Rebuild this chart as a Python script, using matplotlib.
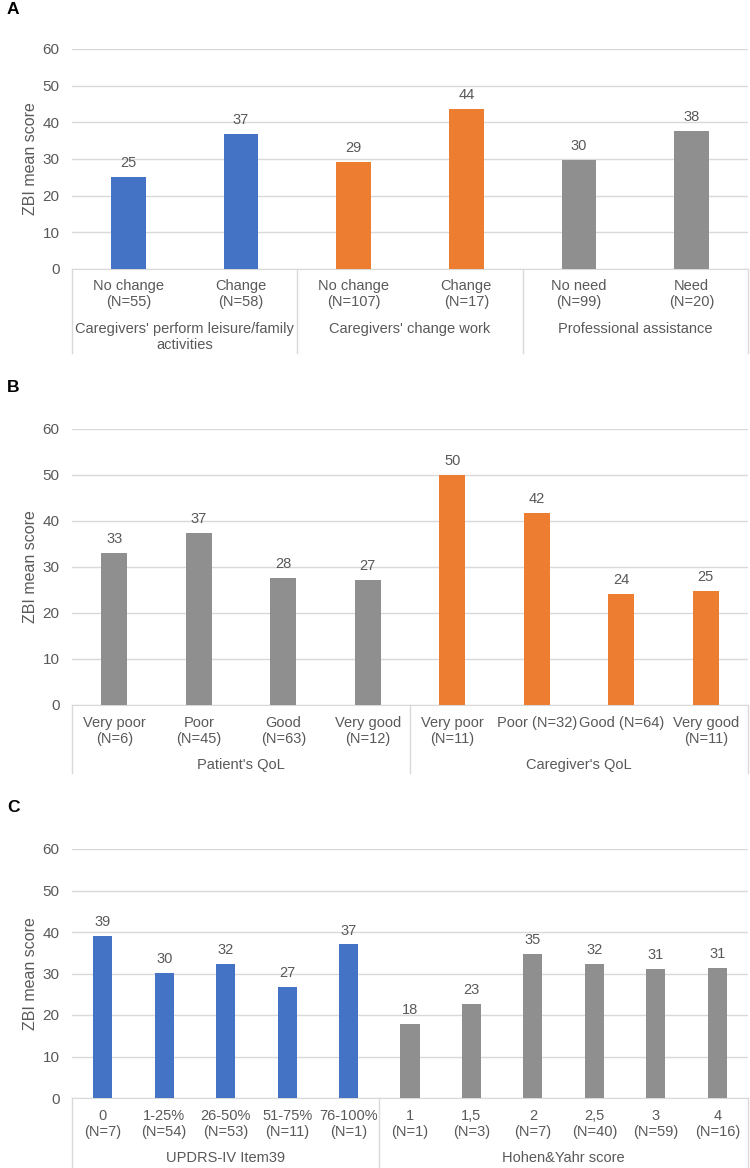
import matplotlib
matplotlib.use('Agg')
import matplotlib.pyplot as plt

plt.rcParams['font.family'] = ['Liberation Sans', 'DejaVu Sans']

# Panel A
a_labels = ['No change\n(N=55)', 'Change\n(N=58)', 'No change\n(N=107)',
            'Change\n(N=17)', 'No need\n(N=99)', 'Need\n(N=20)']
a_values = [25.0, 36.9, 29.2, 43.6, 29.8, 37.7]
a_groups = ["Caregivers' perform leisure/family\nactivities", "Caregivers' change work",
            'Professional assistance']
a_group_sizes = [2, 2, 2]

# Panel B
b_labels = ['Very poor\n(N=6)', 'Poor\n(N=45)', 'Good\n(N=63)', 'Very good\n(N=12)',
            'Very poor\n(N=11)', 'Poor (N=32)', 'Good (N=64)', 'Very good\n(N=11)']
b_values = [33.0, 37.4, 27.6, 27.1, 50.1, 41.7, 24.1, 24.8]
b_groups = ["Patient's QoL", "Caregiver's QoL"]
b_group_sizes = [4, 4]

# Panel C
c_labels = ['0\n(N=7)', '1-25%\n(N=54)', '26-50%\n(N=53)', '51-75%\n(N=11)', '76-100%\n(N=1)',
            '1\n(N=1)', '1,5\n(N=3)', '2\n(N=7)', '2,5\n(N=40)', '3\n(N=59)', '4\n(N=16)']
c_values = [39.0, 30.2, 32.4, 26.7, 37.0, 17.9, 22.7, 34.7, 32.2, 31.0, 31.3]
c_groups = ['UPDRS-IV Item39', 'Hohen&Yahr score']
c_group_sizes = [5, 6]

BLUE = '#4472C4'
ORANGE = '#ED7D31'
GRAY = '#8F8F8F'
TXT = '#595959'
GRID = '#D9D9D9'

W, H = 750, 1168
fig = plt.figure(figsize=(W / 100, H / 100), dpi=100)


def panel(letter, letter_y, top, bottom, labels, values, groups, sizes, colors,
          tick_y1, group_y, line_end):
    ax = fig.add_axes([72 / W, 1 - bottom / H, (748 - 72) / W, (bottom - top) / H])
    h = bottom - top
    n = len(values)
    cols = []
    for s, c in zip(sizes, colors):
        cols += [c] * s
    x = list(range(n))
    bars = ax.bar(x, values, width=0.31, color=cols, zorder=3)
    for b, v in zip(bars, values):
        ax.annotate('%.0f' % v, (b.get_x() + b.get_width() / 2, v), xytext=(0, 5),
                    textcoords='offset points', ha='center', va='bottom',
                    fontsize=10.5, color=TXT)
    ax.set_xlim(-0.5, n - 0.5)
    ax.set_ylim(0, 60)
    ax.set_yticks(range(0, 61, 10))
    ax.grid(axis='y', color=GRID, linewidth=1, zorder=0)
    for s in ['top', 'right', 'left']:
        ax.spines[s].set_visible(False)
    ax.spines['bottom'].set_color(GRID)
    ax.tick_params(axis='y', length=0, pad=9, labelsize=11, labelcolor=TXT)
    ax.set_xticks([])
    ax.set_ylabel('ZBI mean score', fontsize=11.5, color=TXT, labelpad=3)
    tr = ax.get_xaxis_transform()
    for xi, lab in zip(x, labels):
        ax.text(xi, -(tick_y1 - bottom) / h, lab, transform=tr, ha='center', va='top',
                fontsize=10.5, color=TXT, linespacing=1.15)
    # group labels and separators
    start = 0
    edges = [-0.5]
    for g, s in zip(groups, sizes):
        mid = start + (s - 1) / 2
        ax.text(mid, -(group_y - bottom) / h, g, transform=tr, ha='center', va='top',
                fontsize=10.5, color=TXT, linespacing=1.15)
        start += s
        edges.append(start - 0.5)
    for e in edges:
        ax.plot([e, e], [0, -(line_end - bottom) / h], transform=tr, color=GRID,
                linewidth=1, clip_on=False)
    fig.text(7 / W, 1 - letter_y / H, letter, fontsize=12.5, fontweight='bold',
             va='center', ha='left', color='black')
    return ax


panel('A', 9, 49, 269, a_labels, a_values, a_groups, a_group_sizes,
      [BLUE, ORANGE, GRAY], 279, 322, 353)
panel('B', 388, 429, 705, b_labels, b_values, b_groups, b_group_sizes,
      [GRAY, ORANGE], 716, 758, 773)
panel('C', 807, 849, 1098, c_labels, c_values, c_groups, c_group_sizes,
      [BLUE, GRAY], 1109, 1151, 1167)

fig.savefig('out.png', dpi=100)
